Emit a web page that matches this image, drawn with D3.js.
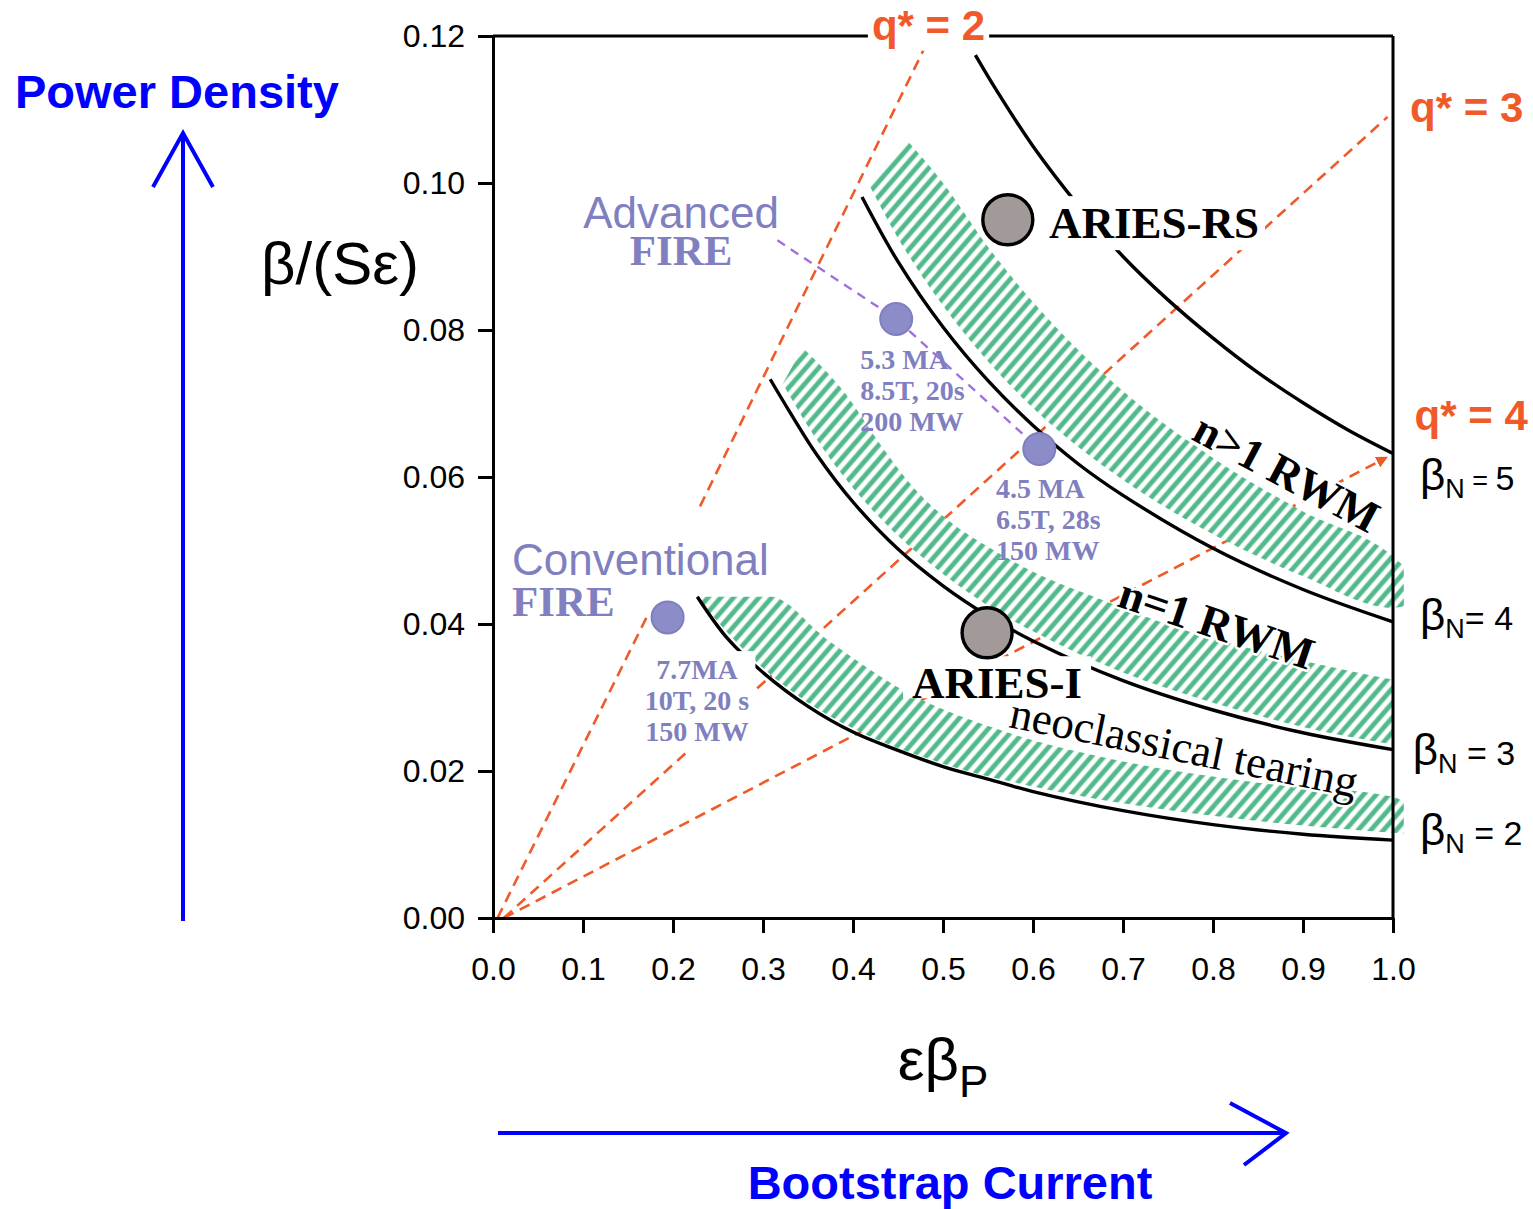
<!DOCTYPE html>
<html><head><meta charset="utf-8">
<script src="https://cdn.jsdelivr.net/npm/d3@7/dist/d3.min.js"></script>
<style>body{margin:0;background:#fff}</style>
</head><body>
<svg id="chart" width="1533" height="1209"></svg>
<script>
// ---------- DATA ----------
const xTicks = [0,0.1,0.2,0.3,0.4,0.5,0.6,0.7,0.8,0.9,1.0];
const yTicks = [0,0.02,0.04,0.06,0.08,0.10,0.12];

// beta_N contours  [eps*beta_p, beta/(S eps)]
const betaN2 = [[0.227,0.0437],[0.26,0.0381],[0.30,0.0334],[0.35,0.0288],[0.40,0.0253],[0.45,0.0228],[0.50,0.0206],[0.55,0.0189],[0.60,0.0172],[0.70,0.0146],[0.80,0.0127],[0.90,0.0114],[1.00,0.0106]];
const betaN3 = [[0.308,0.0733],[0.33,0.0688],[0.36,0.0630],[0.40,0.0566],[0.45,0.0502],[0.50,0.0452],[0.55,0.0411],[0.60,0.0377],[0.70,0.0323],[0.80,0.0283],[0.90,0.0252],[1.00,0.0229]];
const betaN4 = [[0.410,0.0981],[0.45,0.0893],[0.50,0.0804],[0.55,0.0731],[0.60,0.0670],[0.65,0.0618],[0.70,0.0575],[0.80,0.0503],[0.90,0.0447],[1.00,0.0403]];
const betaN5 = [[0.536,0.1174],[0.56,0.1125],[0.60,0.1050],[0.65,0.0970],[0.70,0.0900],[0.75,0.0841],[0.80,0.0789],[0.85,0.0742],[0.90,0.0701],[0.95,0.0664],[1.00,0.0632]];
const betaNLabels = ["5","4","3","2"];
const betaNLabelY = [0.0582,0.0392,0.0208,0.0099];

// hatched stability-limit bands: lower and upper edges
const bandRWMhighLower = [[0.419,0.0995],[0.45,0.0925],[0.50,0.0833],[0.55,0.0757],[0.60,0.0694],[0.65,0.0641],[0.70,0.0596],[0.80,0.0522],[0.90,0.0465],[1.00,0.0422],[1.012,0.0424]];
const bandRWMhighUpper = [[0.46,0.1058],[0.50,0.1000],[0.55,0.0913],[0.60,0.0838],[0.65,0.0773],[0.70,0.0717],[0.80,0.0626],[0.90,0.0553],[1.00,0.0492],[1.012,0.0479]];
const bandRWM1Lower = [[0.322,0.0727],[0.35,0.0669],[0.40,0.0585],[0.45,0.0520],[0.50,0.0468],[0.55,0.0425],[0.60,0.0390],[0.70,0.0334],[0.80,0.0293],[0.90,0.0260],[1.00,0.0236]];
const bandRWM1Upper = [[0.344,0.0776],[0.39,0.0716],[0.43,0.0645],[0.47,0.0582],[0.50,0.0547],[0.55,0.0505],[0.60,0.0471],[0.67,0.0436],[0.75,0.0399],[0.85,0.0364],[0.93,0.0342],[1.00,0.0324]];
const bandNTMLower = [[0.229,0.0433],[0.26,0.0389],[0.30,0.0340],[0.35,0.0293],[0.40,0.0258],[0.50,0.0210],[0.60,0.0179],[0.70,0.0156],[0.80,0.0139],[0.90,0.0126],[1.012,0.0115]];
const bandNTMUpper = [[0.227,0.0437],[0.308,0.0437],[0.37,0.0380],[0.46,0.0307],[0.57,0.0253],[0.70,0.0213],[0.85,0.0184],[1.00,0.0165],[1.012,0.0158]];
const bandNames = ["n>1 RWM","n=1 RWM","neoclassical tearing"];

// q* lines (dashed)
const q2SegA = [[0.005,0.0],[0.171,0.0410]];
const q2SegB = [[0.230,0.0560],[0.478,0.1180]];
const q3Line = [[0.012,0.0],[0.994,0.1090]];
const q4Line = [[0.012,0.0],[0.992,0.0626]];
const qLabels = ["q* = 2","q* = 3","q* = 4"];

// design points
const fireNames = ["Conventional FIRE","Advanced FIRE 5.3 MA","Advanced FIRE 4.5 MA"];
const fireX = [0.194,0.448,0.607];
const fireY = [0.0409,0.0815,0.0638];
const fireText = [["7.7MA","10T, 20 s","150 MW"],["5.3 MA","8.5T, 20s","200 MW"],["4.5 MA","6.5T, 28s","150 MW"]];
const ariesNames = ["ARIES-RS","ARIES-I"];
const ariesX = [0.572,0.549];
const ariesY = [0.0950,0.0388];
const advancedPath = [[0.316,0.0922],[0.448,0.0815],[0.607,0.0638]];

// ---------- LAYOUT ----------
const svg = d3.select("#chart");
const P = {left:493, top:36, width:900, height:882};
const x = d3.scaleLinear().domain([0,1]).range([P.left, P.left+P.width]);
const y = d3.scaleLinear().domain([0,0.12]).range([P.top+P.height, P.top]);
const SANS = "'Liberation Sans', Arial, Helvetica, sans-serif";
const SERIF = "'Liberation Serif', 'Times New Roman', serif";
const RED = "#f05a28", PURP = "#8080c0", GREEN = "#52b98a", BLUE = "#0000ff";

const defs = svg.append("defs");
const pat = defs.append("pattern").attr("id","hatch").attr("patternUnits","userSpaceOnUse")
  .attr("width",9.6).attr("height",10).attr("patternTransform","rotate(41)");
pat.append("rect").attr("width",9.6).attr("height",10).attr("fill","#fff");
pat.append("rect").attr("x",2.4).attr("width",4.8).attr("height",10).attr("fill",GREEN);
defs.append("marker").attr("id","arrRed").attr("viewBox","0 0 10 10").attr("refX",8).attr("refY",5)
  .attr("markerWidth",4.5).attr("markerHeight",4.5).attr("orient","auto").attr("markerUnits","strokeWidth")
  .append("path").attr("d","M0,0 L10,5 L0,10 z").attr("fill",RED);

const gRed = svg.append("g"), gBands = svg.append("g"), gCurves = svg.append("g"),
      gAxes = svg.append("g"), gPurple = svg.append("g"), gMask = svg.append("g"),
      gMarks = svg.append("g"), gText = svg.append("g");

const lin = d3.line().x(d=>x(d[0])).y(d=>y(d[1]));
const smooth = d3.line().x(d=>x(d[0])).y(d=>y(d[1])).curve(d3.curveCatmullRom.alpha(0.5));
const mono = d3.line().x(d=>x(d[0])).y(d=>y(d[1])).curve(d3.curveMonotoneX);

// q* lines
[q2SegA,q2SegB,q3Line,q4Line].forEach((seg,i)=>{
  const p = gRed.append("path").attr("d",lin(seg)).attr("fill","none").attr("stroke",RED)
    .attr("stroke-width",2.6).attr("stroke-dasharray","11,7");
  if(i===3) p.attr("marker-end","url(#arrRed)");
});

// bands
function bandPath(lower, upper){
  const a = mono(lower);
  const b = mono(upper.slice().reverse());
  return a + "L" + b.slice(1) + "Z";
}
[[bandRWMhighLower,bandRWMhighUpper],[bandRWM1Lower,bandRWM1Upper],[bandNTMLower,bandNTMUpper]].forEach(([lo,up])=>{
  gBands.append("path").attr("d",bandPath(lo,up)).attr("fill","url(#hatch)").attr("stroke","none");
});

// beta_N curves
[betaN5,betaN4,betaN3,betaN2].forEach(c=>{
  gCurves.append("path").attr("d",smooth(c)).attr("fill","none").attr("stroke","#000").attr("stroke-width",3.4);
});

// axes
const yAxis = d3.axisLeft(y).tickValues(yTicks).tickFormat(d3.format(".2f")).tickSize(15).tickPadding(13).tickSizeOuter(0);
const xAxis = d3.axisBottom(x).tickValues(xTicks).tickFormat(d3.format(".1f")).tickSize(15).tickPadding(24).tickSizeOuter(0);
const ya = gAxes.append("g").attr("transform",`translate(${P.left},0)`).call(yAxis);
const xa = gAxes.append("g").attr("transform",`translate(0,${P.top+P.height})`).call(xAxis);
[ya,xa].forEach(g=>{
  g.selectAll("path,line").attr("stroke","#000").attr("stroke-width",3);
  g.selectAll("text").attr("font-family",SANS).attr("font-size",32).attr("fill","#000");
});
xa.selectAll("text").attr("dy","0.71em");
gAxes.append("line").attr("x1",x(0)).attr("x2",x(1)).attr("y1",y(0.12)).attr("y2",y(0.12)).attr("stroke","#000").attr("stroke-width",3);
gAxes.append("line").attr("x1",x(1)).attr("x2",x(1)).attr("y1",y(0.12)).attr("y2",y(0)).attr("stroke","#000").attr("stroke-width",3);

// purple connecting dashed line
gPurple.append("path").attr("d",lin(advancedPath)).attr("fill","none").attr("stroke","#a070e0")
  .attr("stroke-width",2.4).attr("stroke-dasharray","9,7");

// helpers
function mask(sel, padX, padTop, padBottom){
  const nodes = sel.nodes ? sel.nodes() : [sel.node()];
  let x0=1e9,y0=1e9,x1=-1e9,y1=-1e9;
  nodes.forEach(n=>{const b=n.getBBox(); x0=Math.min(x0,b.x); y0=Math.min(y0,b.y); x1=Math.max(x1,b.x+b.width); y1=Math.max(y1,b.y+b.height);});
  gMask.append("rect").attr("x",x0-padX).attr("y",y0-padTop).attr("width",x1-x0+2*padX).attr("height",y1-y0+padTop+padBottom).attr("fill","#fff");
}
function halo(sel,w){ return sel.attr("stroke","#fff").attr("stroke-width",w).attr("stroke-linejoin","round").attr("paint-order","stroke"); }

// FIRE points
fireX.forEach((fx,i)=>{
  gMarks.append("circle").attr("cx",x(fx)).attr("cy",y(fireY[i])).attr("r",16)
    .attr("fill","#8c8cc8").attr("stroke","#7f7fc0").attr("stroke-width",2);
});
// ARIES points
ariesX.forEach((ax,i)=>{
  gMarks.append("circle").attr("cx",x(ax)).attr("cy",y(ariesY[i])).attr("r",25)
    .attr("fill","#a29a98").attr("stroke","#000").attr("stroke-width",3.4);
});

// FIRE parameter labels (one text element per label, lines as tspans)
const fireLabelAnchor = [{x:0.2267,y:0.0325,anchor:"middle"},{x:0.408,y:0.0747,anchor:"start"},{x:0.559,y:0.0571,anchor:"start"}];
fireText.forEach((lines,i)=>{
  const a = fireLabelAnchor[i];
  const t = gText.append("text").attr("x",x(a.x)).attr("y",y(a.y)).attr("text-anchor",a.anchor)
      .attr("font-family",SERIF).attr("font-weight","bold").attr("font-size",28).attr("fill",PURP);
  lines.forEach((s,j)=>{
    t.append("tspan").attr("x",x(a.x)).attr("dy",j===0?0:31).text(s);
  });
  if(i===0) mask(t,6,3,3);
});

// Conventional / Advanced FIRE labels (two-line, single text element)
const conv = gText.append("text").attr("x",x(0.0211)).attr("y",y(0.04667)).attr("fill",PURP);
conv.append("tspan").attr("font-family",SANS).attr("font-size",44).text("Conventional");
conv.append("tspan").attr("x",x(0.0211)).attr("dy",41).attr("font-family",SERIF).attr("font-weight","bold").attr("font-size",43).text("FIRE");
const adv = gText.append("text").attr("x",x(0.209)).attr("y",y(0.0939)).attr("text-anchor","middle").attr("fill",PURP);
adv.append("tspan").attr("font-family",SANS).attr("font-size",44).text("Advanced");
adv.append("tspan").attr("x",x(0.209)).attr("dy",37).attr("font-family",SERIF).attr("font-weight","bold").attr("font-size",43).text("FIRE");

// ARIES labels
const ariesLabelAnchor = [{x:0.6178,y:0.0925},{x:0.4656,y:0.0299}];
ariesNames.forEach((nm,i)=>{
  const t = gText.append("text").attr("x",x(ariesLabelAnchor[i].x)).attr("y",y(ariesLabelAnchor[i].y))
    .attr("font-family",SERIF).attr("font-weight","bold").attr("font-size",45).attr("fill","#000").text(nm);
  if(i===0) mask(t, 6, 2, 2); else mask(t, 9, 2, -10);
});

// band labels (rotated)
const bandLabelAnchor = [{x:0.7744,y:0.0652,rot:28,w:"bold"},{x:0.692,y:0.0425,rot:18.5,w:"bold"},{x:0.572,y:0.0260,rot:11.5,w:"normal"}];
bandNames.forEach((nm,i)=>{
  const a = bandLabelAnchor[i];
  halo(gText.append("text").attr("transform",`translate(${x(a.x)},${y(a.y)}) rotate(${a.rot})`)
    .attr("font-family",SERIF).attr("font-weight",a.w).attr("font-size",45).attr("fill","#000").text(nm),5);
});

// q* labels
const qAnchor = [{x:0.421,y:0.1195},{x:1.019,y:0.1083},{x:1.024,y:0.0664}];
qLabels.forEach((s,i)=>{
  const t = gText.append("text").attr("x",x(qAnchor[i].x)).attr("y",y(qAnchor[i].y))
    .attr("font-family",SANS).attr("font-weight","bold").attr("font-size",42).attr("fill",RED).text(s);
  if(i===0) mask(t,4,0,0);
});

// beta_N labels
const bnX = [1.030,1.030,1.022,1.030];
betaNLabels.forEach((v,i)=>{
  const t = gText.append("text").attr("x",x(bnX[i])).attr("y",y(betaNLabelY[i])).attr("font-family",SANS).attr("fill","#000");
  t.append("tspan").attr("font-size",44).text("β");
  t.append("tspan").attr("font-size",27).attr("dy",8).text("N");
  t.append("tspan").attr("font-size",i===0?27:34).attr("dy",-8).text(i===1?"= ":" = ");
  t.append("tspan").attr("font-size",34).text(v);
});

// axis titles
svg.append("text").attr("x",340).attr("y",284).attr("text-anchor","middle")
  .attr("font-family",SANS).attr("font-size",60).attr("fill","#000").text("β/(Sε)");
const xt = svg.append("text").attr("x",x(0.5)).attr("y",1080).attr("text-anchor","middle").attr("font-family",SANS).attr("fill","#000");
xt.append("tspan").attr("font-size",60).text("εβ");
xt.append("tspan").attr("font-size",44).attr("dy",17).text("P");

// blue arrows and captions
const ax = 183;
svg.append("line").attr("x1",ax).attr("x2",ax).attr("y1",921).attr("y2",134).attr("stroke",BLUE).attr("stroke-width",4);
svg.append("polyline").attr("points",`${ax-30},187 ${ax},133 ${ax+30},187`).attr("fill","none").attr("stroke",BLUE).attr("stroke-width",4);
svg.append("text").attr("x",15).attr("y",108).attr("font-family",SANS).attr("font-weight","bold").attr("font-size",47).attr("fill",BLUE).text("Power Density");
const ay = 1133;
svg.append("line").attr("x1",498).attr("x2",1285).attr("y1",ay).attr("y2",ay).attr("stroke",BLUE).attr("stroke-width",4);
svg.append("polyline").attr("points",`1230,${ay-30} 1286,${ay} 1244,${ay+32}`).attr("fill","none").attr("stroke",BLUE).attr("stroke-width",4);
svg.append("text").attr("x",950).attr("y",1199).attr("text-anchor","middle").attr("font-family",SANS).attr("font-weight","bold").attr("font-size",47).attr("fill",BLUE).text("Bootstrap Current");
</script>
</body></html>
